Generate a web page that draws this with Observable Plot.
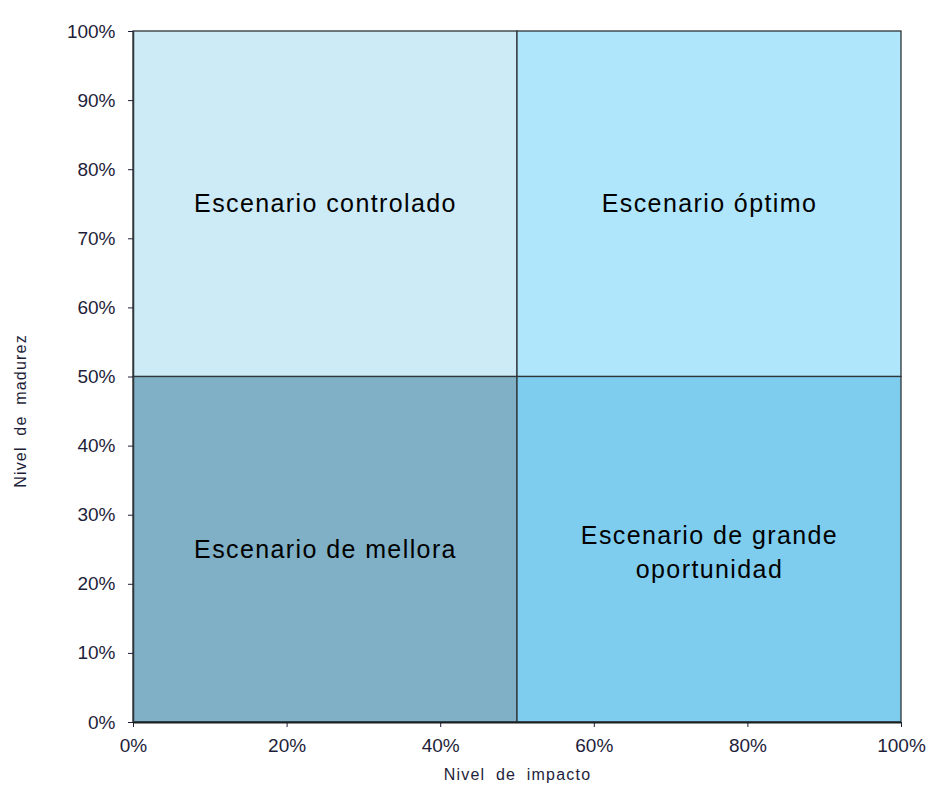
<!DOCTYPE html>
<html>
<head>
<meta charset="utf-8">
<script src="https://cdn.jsdelivr.net/npm/d3@7"></script>
<script src="https://cdn.jsdelivr.net/npm/@observablehq/plot@0.6"></script>
<style>
  html, body { margin: 0; padding: 0; background: #fff; }
  #chart svg { display: block; }
</style>
</head>
<body>
<div id="chart"></div>
<script>
const quadrantNames = ["Escenario controlado", "Escenario óptimo", "Escenario de mellora", "Escenario de grande\noportunidad"];
const quadrantX1 = [0, 50, 0, 50];
const quadrantX2 = [50, 100, 50, 100];
const quadrantY1 = [50, 50, 0, 0];
const quadrantY2 = [100, 100, 50, 50];
const quadrantColors = ["#CDEBF7", "#AFE6FB", "#7FB0C6", "#7FCDEE"];
const xTicks = [0, 20, 40, 60, 80, 100];
const yTicks = [0, 10, 20, 30, 40, 50, 60, 70, 80, 90, 100];
const xLabel = "Nivel de impacto";
const yLabel = "Nivel de madurez";

const quadrants = quadrantNames.map((name, i) => ({
  name,
  x1: quadrantX1[i], x2: quadrantX2[i],
  y1: quadrantY1[i], y2: quadrantY2[i],
  fill: quadrantColors[i]
}));
const singleLine = quadrants.filter(d => !d.name.includes("\n"));
const multiLine = quadrants.filter(d => d.name.includes("\n"));

const labelOpts = (dy) => ({
  x: d => (d.x1 + d.x2) / 2,
  y: d => (d.y1 + d.y2) / 2,
  text: "name",
  fill: "#000",
  fontSize: 25,
  lineHeight: 1.38,
  dy,
  className: "qlabel"
});

const chart = Plot.plot({
  width: 928,
  height: 785,
  marginLeft: 133,
  marginRight: 27,
  marginTop: 31,
  marginBottom: 63,
  style: { fontFamily: "Liberation Sans, Arial, sans-serif", fontSize: "18px", color: "#1e1e3a", background: "#fff" },
  x: { domain: [0, 100] },
  y: { domain: [0, 100] },
  marks: [
    Plot.rect(quadrants, { x1: "x1", x2: "x2", y1: "y1", y2: "y2", fill: "fill", stroke: "#2f3538", strokeWidth: 1.3 }),
    Plot.text(singleLine, labelOpts(-3)),
    Plot.text(multiLine, labelOpts(0)),
    Plot.axisX({
      ticks: xTicks,
      tickFormat: d => d + "%",
      tickSize: 5,
      tickPadding: 11,
      fontSize: 19,
      label: null
    }),
    Plot.axisY({
      ticks: yTicks,
      tickFormat: d => d + "%",
      tickSize: 5,
      tickPadding: 13,
      fontSize: 19,
      label: null
    }),
    Plot.text([xLabel], {
      frameAnchor: "bottom",
      textAnchor: "middle",
      dy: 57,
      fontSize: 16,
      fill: "#1e1e3a",
      className: "axtitle"
    }),
    Plot.text([yLabel], {
      frameAnchor: "left",
      textAnchor: "middle",
      rotate: -90,
      dx: -113,
      dy: 34,
      fontSize: 16,
      fill: "#1e1e3a",
      className: "axtitle"
    }),
    Plot.ruleY([0], { stroke: "#1a1f22", strokeWidth: 2 }),
    Plot.ruleX([0], { stroke: "#2f3538", strokeWidth: 1.5 })
  ]
});

d3.select(chart).selectAll(".qlabel text").style("letter-spacing", "1.4px");
d3.select(chart).selectAll(".axtitle text").style("letter-spacing", "1.2px").style("word-spacing", "5px");

document.getElementById("chart").appendChild(chart);
</script>
</body>
</html>
